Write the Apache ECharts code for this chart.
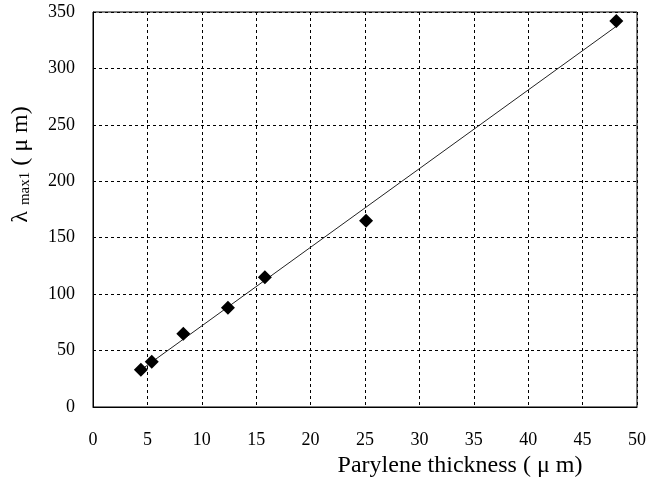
<!DOCTYPE html>
<html>
<head>
<meta charset="utf-8">
<script src="https://cdn.jsdelivr.net/npm/echarts@6/dist/echarts.min.js"></script>
<style>html,body{margin:0;padding:0;background:#fff}#c{width:648px;height:480px}</style>
</head>
<body>
<div id="c"></div>
<script>
var thickness = [4.4, 5.4, 8.3, 12.4, 15.8, 25.1, 48.1];
var lambdaMax = [33, 40, 65, 88, 115, 165, 342];
var xTicks = [0, 5, 10, 15, 20, 25, 30, 35, 40, 45, 50];
var yTicks = [0, 50, 100, 150, 200, 250, 300, 350];

// Linear trendline (least squares) fitted to the data
var n = thickness.length, mx = 0, my = 0;
for (var i = 0; i < n; i++) { mx += thickness[i]; my += lambdaMax[i]; }
mx /= n; my /= n;
var sxy = 0, sxx = 0;
for (var i = 0; i < n; i++) { sxy += (thickness[i]-mx)*(lambdaMax[i]-my); sxx += (thickness[i]-mx)*(thickness[i]-mx); }
var slope = sxy / sxx, icpt = my - slope * mx;
var xmin = Math.min.apply(null, thickness), xmax = Math.max.apply(null, thickness);
var trend = [[xmin, icpt + slope * xmin], [xmax, icpt + slope * xmax]];

var pts = thickness.map(function (x, i) { return [x, lambdaMax[i]]; });
var font = '"Liberation Serif","Times New Roman",serif';

var chart = echarts.init(document.getElementById('c'));
chart.setOption({
  animation: false,
  grid: { left: 93, right: 11, top: 12, bottom: 73, containLabel: false, outerBoundsMode: 'none', show: true, borderColor: '#000', borderWidth: 1 },
  xAxis: {
    type: 'value', min: 0, max: 50, interval: 5,
    name: 'Parylene thickness ( μ m)', nameLocation: 'middle', nameGap: 45,
    nameTextStyle: { fontFamily: font, fontSize: 24, color: '#000', padding: [0, 0, 0, 190] },
    axisLine: { lineStyle: { color: '#000', width: 1 } },
    axisTick: { show: false },
    axisLabel: { fontFamily: font, fontSize: 18, color: '#000', margin: 24 },
    splitLine: { show: true, lineStyle: { color: '#000', type: [3, 3], width: 1 } }
  },
  yAxis: {
    type: 'value', min: 0, max: 350, interval: 50,
    name: '{l|λ }{s|max1}{l| ( μ m)}', nameLocation: 'middle', nameGap: 60,
    nameTextStyle: { fontFamily: font, color: '#000', padding: [0, 0, 0, 90],
      rich: { l: { fontFamily: font, fontSize: 24, color: '#000' }, s: { fontFamily: font, fontSize: 15, color: '#000', verticalAlign: 'bottom', padding: [9, 0, 0, 0] } } },
    axisLine: { show: true, lineStyle: { color: '#000', width: 1 } },
    axisTick: { show: false },
    axisLabel: { fontFamily: font, fontSize: 18, color: '#000', margin: 18 },
    splitLine: { show: true, lineStyle: { color: '#000', type: [3, 3], width: 1 } }
  },
  series: [
    { type: 'line', data: trend, symbol: 'none', lineStyle: { color: '#222', width: 1 }, z: 2 },
    { type: 'scatter', data: pts, symbol: 'diamond', symbolSize: [14, 14], itemStyle: { color: '#000', opacity: 1 }, z: 3 }
  ]
});
</script>
</body>
</html>
